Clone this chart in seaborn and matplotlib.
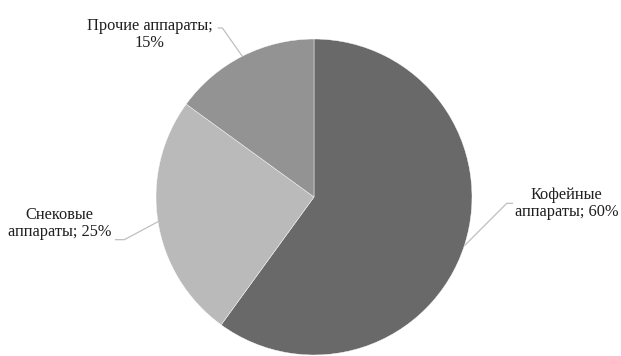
import matplotlib
matplotlib.use('Agg')
import matplotlib.pyplot as plt
import seaborn as sns
import numpy as np

# данные
names = ['Кофейные аппараты', 'Снековые аппараты', 'Прочие аппараты']
shares = [60, 25, 15]
colors = ['#696969', '#bababa', '#939393']
label_texts = ['Кофейные\nаппараты; 60%', 'Снековые\nаппараты; 25%', 'Прочие аппараты;\n15%']

sns.set_theme(style='white')
plt.rcParams['font.family'] = ['Liberation Serif', 'DejaVu Serif']

fig = plt.figure(figsize=(6.21, 3.56), dpi=100)
ax = fig.add_axes([0, 0, 1, 1])

wedges, _ = ax.pie(shares, colors=colors, startangle=90, counterclock=False,
                   radius=1, wedgeprops={'linewidth': 0.3, 'edgecolor': 'white'})

# подписи (позиции текста и изломов выносок, в единицах радиуса)
text_pos = [(1.60, -0.04), (-1.61, -0.17), (-1.04, 1.03)]
elbow_pos = [(1.22, -0.04), (-1.20, -0.27), (-0.58, 1.07)]
line_end = [(1.26, -0.04), (-1.26, -0.27), (-0.61, 1.07)]

for w, txt, tp, ep, le in zip(wedges, label_texts, text_pos, elbow_pos, line_end):
    mid = np.deg2rad((w.theta1 + w.theta2) / 2)
    px, py = np.cos(mid), np.sin(mid)
    ax.plot([px, ep[0], le[0]], [py, ep[1], le[1]], color='#bfbfbf', lw=0.9,
            solid_capstyle='butt')
    ax.text(tp[0], tp[1], txt, ha='center', va='center', multialignment='center',
            fontsize=11.8, color='#1f1f1f', linespacing=1.08)

ax.set_xlim(-314 / 158, (621 - 314) / 158)
ax.set_ylim(-(356 - 197) / 158, 197 / 158)
ax.set_aspect('auto')
ax.axis('off')

fig.savefig('out.png', dpi=100)
